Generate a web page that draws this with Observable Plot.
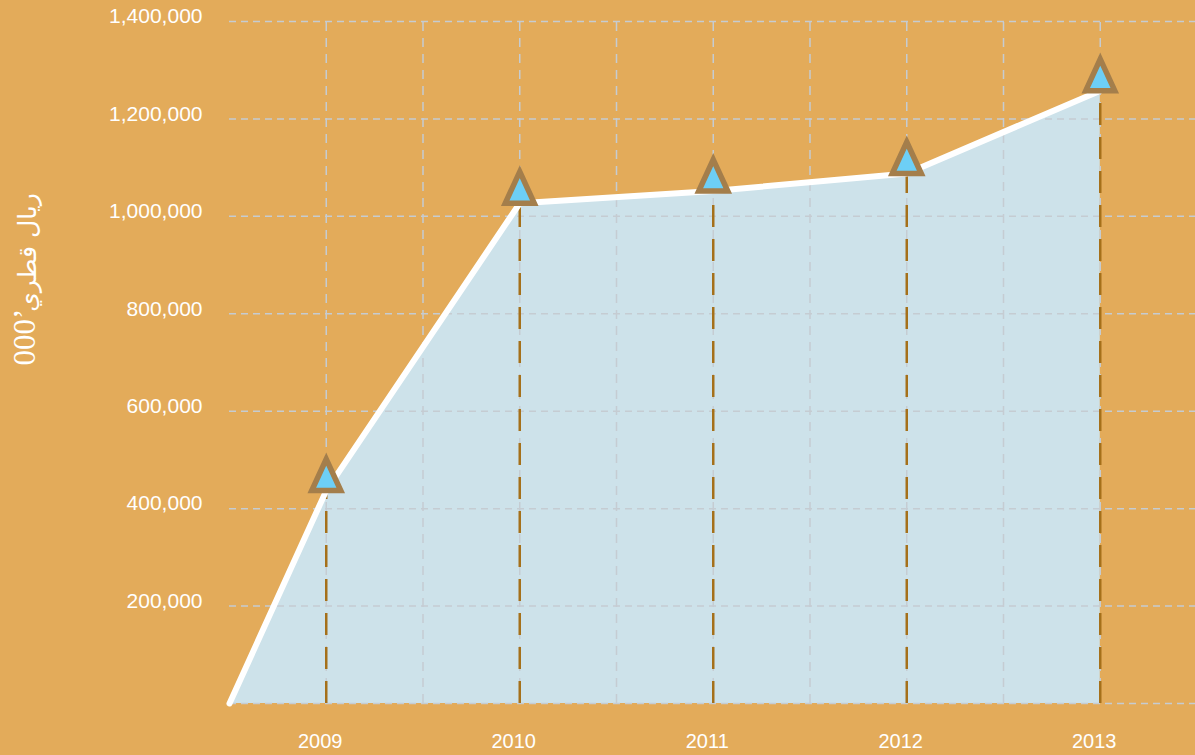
<!DOCTYPE html>
<html><head><meta charset="utf-8">
<script src="https://cdn.jsdelivr.net/npm/d3@7"></script>
<script src="https://cdn.jsdelivr.net/npm/@observablehq/plot@0.6"></script>
<style>html,body{margin:0;padding:0;background:#E3AB5A;overflow:hidden}</style>
</head><body><div id="chart"></div>
<script>
const years = [2009, 2010, 2011, 2012, 2013];
const values = [437000, 1027000, 1052000, 1088000, 1258000];
const originYear = 2008.5;
const originValue = 0;
const yTickValues = [200000, 400000, 600000, 800000, 1000000, 1200000, 1400000];
const yGridValues = [0, 200000, 400000, 600000, 800000, 1000000, 1200000, 1400000];
const xGridValues = [2009, 2009.5, 2010, 2010.5, 2011, 2011.5, 2012, 2012.5, 2013];
const yTitleUnit = "000’";
const yTitleCurrency = "ريال قطري";

const points = years.map((year, i) => ({year, value: values[i]}));
const linePts = [{year: originYear, value: originValue}, ...points];

// tall isosceles triangle whose base sits on the data point
const tallTriangle = {
  draw(context) {
    context.moveTo(0, -31.5);
    context.lineTo(14.5, 0);
    context.lineTo(-14.5, 0);
    context.closePath();
  }
};

const chart = Plot.plot({
  width: 1195, height: 755,
  marginLeft: 229, marginRight: 0, marginTop: 21, marginBottom: 52,
  x: {domain: [2008.5, 2013.5], range: [229, 1196.5], label: null},
  y: {domain: [0, 1400000], label: null},
  style: {background: "#E3AB5A", fontFamily: "'Liberation Sans', Arial, sans-serif", fontSize: "20px", overflow: "visible"},
  marks: [
    Plot.areaY(linePts, {x: "year", y: "value", fill: "#CDE2EA"}),
    Plot.ruleY(yGridValues, {stroke: "#C5CCD2", strokeWidth: 1.5, strokeDasharray: "7,5"}),
    Plot.ruleX(xGridValues, {y1: 0, y2: 1400000, stroke: "#C5CCD2", strokeWidth: 1.5, strokeDasharray: "9,7"}),
    Plot.ruleX(points, {x: "year", y1: 0, y2: "value", stroke: "#A5701A", strokeWidth: 2.5, strokeDasharray: "22,12"}),
    Plot.line(linePts, {x: "year", y: "value", stroke: "white", strokeWidth: 6}),
    Plot.dot(points, {x: "year", y: "value", symbol: tallTriangle, fill: "#6DCFF6", stroke: "#A47E4B", strokeWidth: 5.5, strokeLinejoin: "miter", strokeMiterlimit: 10}),
    Plot.axisY(yTickValues, {tickSize: 0, tickPadding: 27, tickFormat: d3.format(","), color: "white", fontSize: 21, dy: -5, label: null}),
    Plot.axisX(years, {tickSize: 0, tickPadding: 30, tickFormat: d => String(d), color: "white", fontSize: 20, dx: -6, label: null}),
    Plot.text([yTitleUnit], {frameAnchor: "left", rotate: -90, textAnchor: "start", dx: -204, dy: 3, fill: "white", fontSize: 31, fontFamily: "'Liberation Serif', serif"}),
    Plot.text([yTitleCurrency], {frameAnchor: "left", rotate: -90, textAnchor: "middle", dx: -202, dy: -110, fill: "white", fontSize: 25, fontFamily: "'DejaVu Sans', sans-serif"})
  ]
});
document.getElementById("chart").appendChild(chart);
</script>
</body></html>
